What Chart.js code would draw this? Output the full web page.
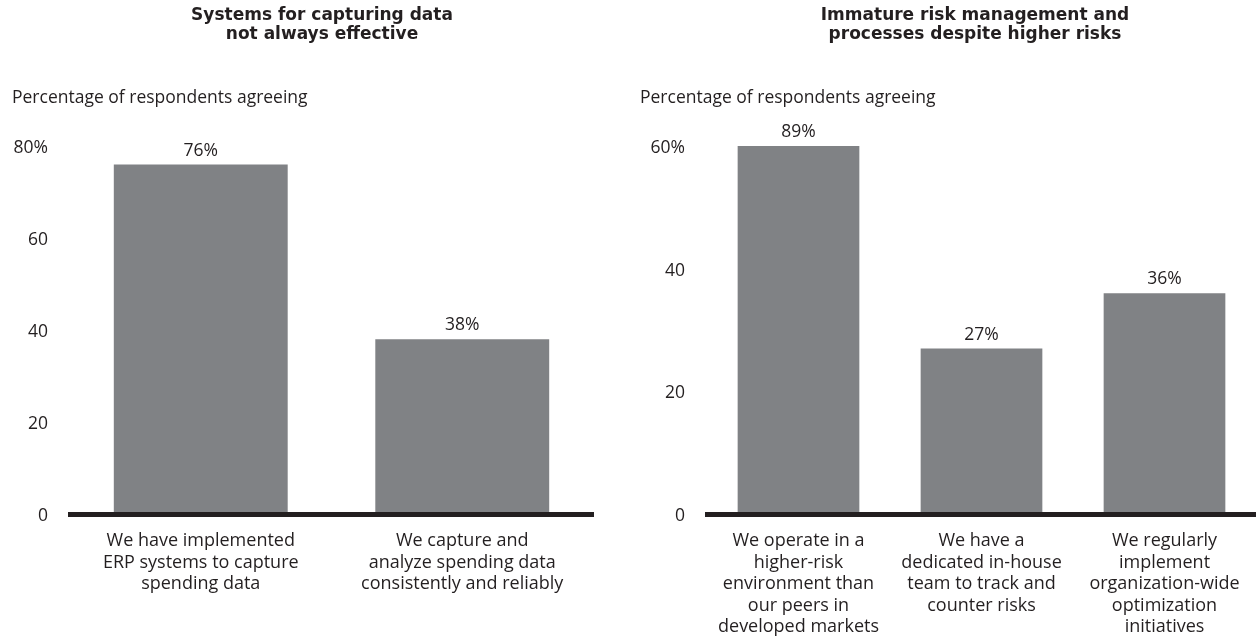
<!DOCTYPE html>
<html>
<head>
<meta charset="utf-8">
<script src="https://cdn.jsdelivr.net/npm/chart.js@4"></script>
<style>
html,body{margin:0;padding:0;background:#fff;}
#wrap{position:relative;width:1256px;height:641px;overflow:hidden;background:#fff;}
canvas{position:absolute;top:0;}
.sub{position:absolute;font-family:'Open Sans',sans-serif;font-size:17.5px;color:#231f20;line-height:24px;white-space:nowrap;}
.ttl{position:absolute;width:420px;text-align:center;font-family:'DejaVu Sans',sans-serif;font-weight:bold;font-size:17px;line-height:19px;color:#231f20;white-space:nowrap;}
</style>
</head>
<body>
<div id="wrap">
  <canvas id="c1" width="628" height="641" style="left:0"></canvas>
  <canvas id="c2" width="628" height="641" style="left:628px"></canvas>
  <div class="ttl" id="t1" style="left:112px;top:5px"></div>
  <div class="ttl" id="t2" style="left:765px;top:5px"></div>
  <div class="sub" id="s1" style="left:12px;top:84px"></div>
  <div class="sub" id="s2" style="left:640px;top:84px"></div>
</div>
<script>
// ---- data ----
const leftTitle = ["Systems for capturing data", "not always effective"];
const rightTitle = ["Immature risk management and", "processes despite higher risks"];
const subtitleText = "Percentage of respondents agreeing";

const leftCategories = [
  ["We have implemented", "ERP systems to capture", "spending data"],
  ["We capture and", "analyze spending data", "consistently and reliably"]
];
const leftValues = [76, 38];
const leftTickValues = [0, 20, 40, 60, 80];
const leftTickLabels = ["0", "20", "40", "60", "80%"];

const rightCategories = [
  ["We operate in a", "higher-risk", "environment than", "our peers in", "developed markets"],
  ["We have a", "dedicated in-house", "team to track and", "counter risks"],
  ["We regularly", "implement", "organization-wide", "optimization", "initiatives"]
];
const rightValues = [89, 27, 36];
const rightTickValues = [0, 20, 40, 60];
const rightTickLabels = ["0", "20", "40", "60%"];

// ---- styles ----
const TEXT = '#231f20';
const BAR = '#808285';
const FONT = "'Open Sans', sans-serif";

function setLines(id, lines) {
  const el = document.getElementById(id);
  lines.forEach((t, i) => {
    if (i) el.appendChild(document.createElement('br'));
    el.appendChild(document.createTextNode(t));
  });
}
setLines('t1', leftTitle);
setLines('t2', rightTitle);
document.getElementById('s1').textContent = subtitleText;
document.getElementById('s2').textContent = subtitleText;

const valueLabels = {
  id: 'valueLabels',
  afterDatasetsDraw(chart) {
    const {ctx, chartArea} = chart;
    const meta = chart.getDatasetMeta(0);
    const data = chart.data.datasets[0].data;
    ctx.save();
    ctx.font = "17.5px " + FONT;
    ctx.fillStyle = TEXT;
    ctx.textAlign = 'center';
    ctx.textBaseline = 'bottom';
    meta.data.forEach((bar, i) => {
      const top = Math.max(bar.y, chartArea.top);
      ctx.fillText(data[i] + '%', bar.x, top - 5);
    });
    ctx.restore();
  }
};

function makeChart(id, cats, vals, tickVals, tickLabels, padR, yWidth) {
  const maxV = tickVals[tickVals.length - 1];
  return new Chart(document.getElementById(id), {
    type: 'bar',
    data: {
      labels: cats,
      datasets: [{
        data: vals,
        backgroundColor: BAR,
        borderWidth: 0,
        barPercentage: 0.665,
        categoryPercentage: 1.0
      }]
    },
    options: {
      responsive: false,
      animation: false,
      events: [],
      layout: {padding: {left: 0, right: padR, top: 146, bottom: 0}},
      plugins: {
        legend: {display: false},
        tooltip: {enabled: false},
        title: {display: false}
      },
      scales: {
        x: {
          grid: {display: true, drawOnChartArea: false, drawTicks: false, color: 'rgba(0,0,0,0)'},
          border: {display: true, color: TEXT, width: 5, z: 1},
          ticks: {
            color: TEXT,
            padding: 16,
            maxRotation: 0,
            autoSkip: false,
            font: {family: FONT, size: 18, lineHeight: 1.2}
          },
          afterFit: s => { s.height = 127; }
        },
        y: {
          min: 0,
          max: maxV,
          grid: {display: false, drawTicks: false},
          border: {display: false},
          afterBuildTicks: s => { s.ticks = tickVals.map(v => ({value: v})); },
          ticks: {
            color: TEXT,
            padding: 22,
            labelOffset: 2,
            autoSkip: false,
            font: {family: FONT, size: 17.5},
            callback: v => tickLabels[tickVals.indexOf(v)]
          },
          afterFit: s => { s.width = yWidth; }
        }
      }
    },
    plugins: [valueLabels]
  });
}

makeChart('c1', leftCategories, leftValues, leftTickValues, leftTickLabels, 35, 70);
makeChart('c2', rightCategories, rightValues, rightTickValues, rightTickLabels, 0, 79);
</script>
</body>
</html>
